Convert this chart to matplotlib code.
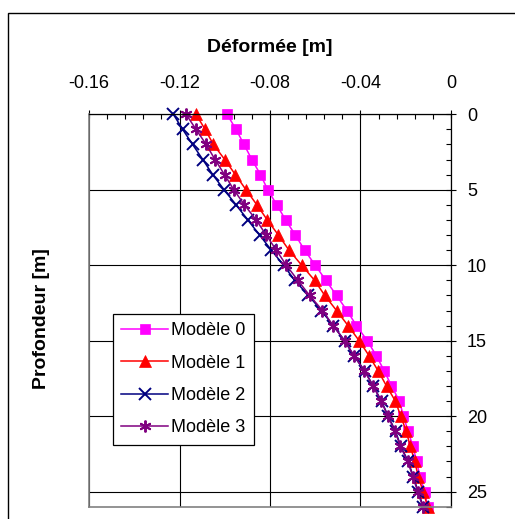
import numpy as np
import matplotlib
matplotlib.use("Agg")
import matplotlib.pyplot as plt
from matplotlib.patches import Rectangle
from matplotlib.ticker import MultipleLocator, FuncFormatter

plt.rcParams['font.family'] = ['Liberation Sans', 'DejaVu Sans']

# depth [m]
depth = list(range(0, 27))

# deformation [m]
modele0 = [-0.0990, -0.0950, -0.0915, -0.0880, -0.0842, -0.0810, -0.0770, -0.0731, -0.0688,
           -0.0647, -0.0600, -0.0553, -0.0506, -0.0460, -0.0418, -0.0370, -0.0330, -0.0295,
           -0.0263, -0.0228, -0.0210, -0.0190, -0.0168, -0.0152, -0.0137, -0.0117, -0.0103]
modele1 = [-0.1127, -0.1087, -0.1050, -0.1000, -0.0953, -0.0906, -0.0858, -0.0812, -0.0763,
           -0.0716, -0.0660, -0.0603, -0.0558, -0.0506, -0.0455, -0.0406, -0.0362, -0.0322,
           -0.0285, -0.0246, -0.0222, -0.0198, -0.0180, -0.0160, -0.0145, -0.0123, -0.0103]
modele2 = [-0.1227, -0.1186, -0.1142, -0.1097, -0.1053, -0.1003, -0.0950, -0.0898, -0.0846,
           -0.0794, -0.0740, -0.0691, -0.0630, -0.0573, -0.0521, -0.0470, -0.0430, -0.0381,
           -0.0344, -0.0307, -0.0278, -0.0245, -0.0222, -0.0189, -0.0167, -0.0145, -0.0123]
modele3 = [-0.1171, -0.1127, -0.1082, -0.1043, -0.1001, -0.0960, -0.0913, -0.0861, -0.0817,
           -0.0772, -0.0728, -0.0677, -0.0625, -0.0568, -0.0521, -0.0470, -0.0428, -0.0383,
           -0.0344, -0.0309, -0.0279, -0.0247, -0.0224, -0.0191, -0.0169, -0.0147, -0.0125]

labels = ["Modèle 0", "Modèle 1", "Modèle 2", "Modèle 3"]
colors = ["#FF00FF", "#FF0000", "#000080", "#800080"]
markers = ["s", "^", "x", (6, 2, 0)]
msizes = [7, 8.5, 8, 8.5]

fig = plt.figure(figsize=(5.15, 5.19), dpi=100)
ax = fig.add_axes([89 / 515, 1 - 506.7 / 519, (451 - 89) / 515, (506.7 - 114.3) / 519])

for vals, lab, c, m, ms in zip([modele0, modele1, modele2, modele3], labels, colors, markers, msizes):
    ax.plot(vals, depth, color=c, marker=m, markersize=ms, lw=1.1,
            markeredgewidth=1.4 if m in ("x", (6, 2, 0)) else 0.5, label=lab, clip_on=False)

ax.set_xlim(-0.16, 0)
ax.set_ylim(26, 0)

ax.xaxis.set_major_locator(MultipleLocator(0.04))
ax.xaxis.set_minor_locator(MultipleLocator(0.008))
ax.yaxis.set_major_locator(MultipleLocator(5))
ax.yaxis.set_minor_locator(MultipleLocator(1))
ax.xaxis.set_major_formatter(FuncFormatter(lambda v, p: "0" if abs(v) < 1e-9 else "%.2f" % v))

ax.xaxis.tick_top()
ax.yaxis.tick_right()
ax.tick_params(axis='x', which='major', direction='inout', length=6, width=0.8,
               labelsize=13, pad=13, top=True, bottom=False)
ax.tick_params(axis='x', which='minor', direction='in', length=3.5, width=0.8, top=True, bottom=False)
ax.tick_params(axis='y', which='major', direction='inout', length=7, width=0.8,
               labelsize=13, pad=8, right=True, left=False)
ax.tick_params(axis='y', which='minor', direction='in', length=3.5, width=0.8, right=True, left=False)

ax.grid(True, which='major', color='black', lw=0.8)
ax.set_axisbelow(True)
for side in ['left', 'bottom']:
    ax.spines[side].set_color('#808080')
    ax.spines[side].set_linewidth(1.2)
for side in ['top', 'right']:
    ax.spines[side].set_color('black')
    ax.spines[side].set_linewidth(0.9)

leg = ax.legend(loc='upper left', bbox_to_anchor=(113.3 / 515, 1 - 314.3 / 519),
                bbox_transform=fig.transFigure, borderaxespad=0, fontsize=13,
                fancybox=False, framealpha=1, edgecolor='black', handlelength=2.6,
                labelspacing=0.85, borderpad=0.45, handletextpad=0.15)
leg.get_frame().set_linewidth(0.9)

fig.text(270 / 515, 1 - 48 / 519, "Déformée [m]", ha='center', va='center',
         fontsize=14, fontweight='bold')
fig.text(42 / 515, 1 - 319 / 519, "Profondeur [m]", ha='center', va='center',
         rotation=90, fontsize=14, fontweight='bold')

fig.patches.append(Rectangle((8 / 515, -0.1), 1.2, 1 - 13 / 519 + 0.1, transform=fig.transFigure,
                             fill=False, edgecolor='black', lw=1))

fig.savefig("out.png", dpi=100)
